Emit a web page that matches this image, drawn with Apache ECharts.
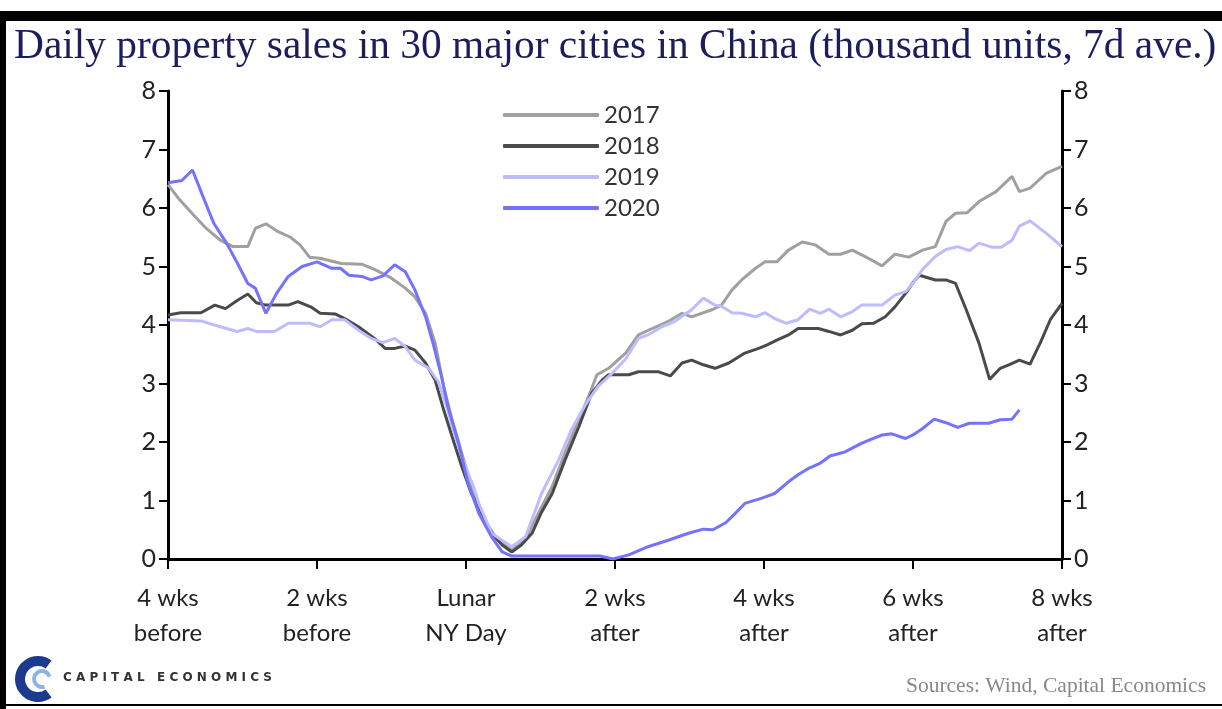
<!DOCTYPE html>
<html>
<head>
<meta charset="utf-8">
<script src="https://cdn.jsdelivr.net/npm/echarts@6/dist/echarts.min.js"></script>
<style>
  html, body { margin: 0; padding: 0; background: #fff; }
  #chart { width: 1222px; height: 709px; }
</style>
</head>
<body>
<div id="chart"></div>
<script>
// days counted from "4 wks before" (0) to "8 wks after" (84)
var xTickLabels = ['4 wks\nbefore', '2 wks\nbefore', 'Lunar\nNY Day', '2 wks\nafter', '4 wks\nafter', '6 wks\nafter', '8 wks\nafter'];
var yTicks = [0, 1, 2, 3, 4, 5, 6, 7, 8];

var days2017 = [0, 1.1, 2.4, 3.6, 4.9, 6.1, 7.5, 8.2, 9.2, 10.2, 11.5, 12.4, 13.3, 14.3, 16.3, 18.2, 19.4, 21, 22.3, 23.2, 24.2, 25.1, 25.9, 26.7, 27.6, 28.5, 29.8, 31, 32.3, 33.6, 34.8, 36.1, 37.3, 38.6, 39.5, 40.3, 41.4, 43, 44.2, 45.5, 47, 48.3, 49.2, 51.1, 52, 53, 53.9, 55.2, 56.1, 57.2, 58.3, 59.6, 60.8, 62.1, 63.2, 64.3, 65.5, 67.1, 68.3, 69.6, 70.9, 72.1, 73.1, 74, 75.1, 76.2, 77.8, 79.3, 80, 81, 82.5, 84];
var sales2017 = [6.4, 6.14, 5.88, 5.65, 5.45, 5.34, 5.34, 5.65, 5.73, 5.61, 5.5, 5.37, 5.16, 5.14, 5.05, 5.04, 4.95, 4.8, 4.63, 4.48, 4.2, 3.69, 2.95, 2.38, 1.81, 1.24, 0.64, 0.32, 0.15, 0.35, 0.78, 1.24, 1.81, 2.38, 2.77, 3.15, 3.26, 3.52, 3.83, 3.94, 4.06, 4.2, 4.14, 4.26, 4.34, 4.6, 4.77, 4.97, 5.08, 5.08, 5.28, 5.42, 5.37, 5.21, 5.21, 5.28, 5.17, 5.01, 5.21, 5.16, 5.28, 5.34, 5.77, 5.91, 5.92, 6.11, 6.28, 6.54, 6.28, 6.34, 6.59, 6.71];

var days2018 = [0, 1.2, 3.1, 4.4, 5.4, 6.5, 7.5, 8.3, 9.2, 11.3, 12.2, 13.4, 14.3, 15.7, 16.6, 17.9, 19.4, 20.4, 21.3, 22.3, 23.2, 24.2, 25.1, 25.9, 26.7, 27.6, 28.5, 29.2, 30.4, 31.4, 32.3, 33.2, 34.2, 35.1, 36.1, 37.3, 38.6, 39.8, 40.8, 41.4, 43.3, 44.2, 46.1, 47.2, 48.3, 49.2, 50.3, 51.4, 52.7, 54.2, 55.5, 56.3, 57.2, 58.3, 59.2, 61.1, 62.1, 63.2, 64.3, 65.2, 66.3, 67.4, 68.3, 69.3, 70.2, 70.6, 72.1, 73.1, 74, 75, 76.2, 77.2, 78.2, 79, 80, 81, 82, 82.9, 84];
var sales2018 = [4.17, 4.21, 4.21, 4.34, 4.28, 4.42, 4.53, 4.38, 4.34, 4.34, 4.4, 4.31, 4.2, 4.19, 4.11, 3.97, 3.77, 3.6, 3.6, 3.64, 3.57, 3.35, 3.06, 2.55, 2.09, 1.58, 1.12, 0.89, 0.44, 0.24, 0.12, 0.24, 0.44, 0.8, 1.12, 1.69, 2.26, 2.83, 3.06, 3.15, 3.15, 3.2, 3.2, 3.13, 3.35, 3.4, 3.32, 3.26, 3.35, 3.52, 3.6, 3.66, 3.74, 3.83, 3.94, 3.94, 3.89, 3.83, 3.91, 4.02, 4.03, 4.14, 4.31, 4.54, 4.77, 4.85, 4.77, 4.77, 4.71, 4.26, 3.69, 3.07, 3.26, 3.32, 3.4, 3.33, 3.71, 4.09, 4.37];

var days2019 = [0, 3.1, 4.9, 6.5, 7.5, 8.3, 10, 11.3, 13.3, 14.3, 15.4, 16.6, 17.9, 19.1, 20.2, 21.3, 22.3, 23.2, 24.5, 25.4, 26.2, 26.9, 27.7, 28.7, 29.2, 30.4, 32.3, 33.6, 35.1, 36.7, 37.9, 39.2, 40.4, 41.7, 43, 44.2, 45.1, 46.4, 47.6, 49.2, 50.3, 51.4, 52, 53, 53.9, 55.2, 56.1, 57, 58.1, 59.2, 60.3, 61.3, 62.1, 63.2, 64.3, 65.2, 67.1, 68.3, 69.3, 70, 70.9, 72.1, 73.1, 74.2, 75.3, 76.2, 77.4, 78.3, 79.3, 80, 81, 82.5, 84];
var sales2019 = [4.09, 4.07, 3.97, 3.89, 3.94, 3.89, 3.89, 4.03, 4.03, 3.97, 4.09, 4.09, 3.91, 3.77, 3.7, 3.77, 3.63, 3.4, 3.26, 3.03, 2.6, 2.15, 1.69, 1.24, 0.95, 0.44, 0.21, 0.38, 1.12, 1.69, 2.21, 2.63, 2.95, 3.17, 3.42, 3.77, 3.83, 3.97, 4.06, 4.26, 4.46, 4.34, 4.32, 4.21, 4.2, 4.14, 4.21, 4.11, 4.03, 4.09, 4.27, 4.2, 4.27, 4.14, 4.23, 4.34, 4.34, 4.51, 4.57, 4.71, 4.95, 5.17, 5.29, 5.34, 5.27, 5.4, 5.33, 5.33, 5.45, 5.69, 5.78, 5.57, 5.34];

var days2020 = [0, 1.3, 2.3, 3.3, 4.3, 5.5, 6.6, 7.5, 8.2, 9.2, 10.2, 11.3, 12.6, 14, 15.4, 16.2, 17, 18.2, 19.1, 20.2, 21.3, 22.3, 23.2, 24.2, 24.9, 25.7, 26.3, 27.3, 28.2, 29.2, 30.4, 31.4, 32.3, 40.6, 41.8, 43.3, 45.1, 47, 48.9, 50.3, 51.2, 52.4, 53.3, 54.2, 55.8, 57, 58.3, 59.2, 60.2, 61.3, 62.2, 63.6, 65.2, 66.1, 67.1, 68, 69.3, 70, 70.9, 72, 73.1, 74.2, 75.3, 77.1, 78.2, 79.3, 80];
var sales2020 = [6.43, 6.47, 6.65, 6.19, 5.74, 5.4, 5.03, 4.71, 4.63, 4.2, 4.54, 4.83, 5.0, 5.08, 4.97, 4.97, 4.85, 4.83, 4.77, 4.84, 5.03, 4.91, 4.6, 4.14, 3.69, 3.12, 2.6, 1.98, 1.29, 0.78, 0.38, 0.12, 0.05, 0.05, 0.0, 0.07, 0.21, 0.32, 0.44, 0.51, 0.5, 0.62, 0.78, 0.95, 1.04, 1.12, 1.32, 1.44, 1.55, 1.64, 1.76, 1.83, 1.98, 2.05, 2.12, 2.14, 2.06, 2.12, 2.23, 2.39, 2.33, 2.25, 2.32, 2.32, 2.38, 2.39, 2.55];

function pairs(days, vals) {
  var out = [];
  for (var i = 0; i < days.length; i++) out.push([days[i], vals[i]]);
  return out;
}

function lineSeries(name, days, vals, color) {
  return {
    name: name,
    type: 'line',
    data: pairs(days, vals),
    symbol: 'none',
    smooth: false,
    lineStyle: { color: color, width: 3 },
    itemStyle: { color: color },
    emphasis: { disabled: true }
  };
}

var tickFont = 'Lato, "Open Sans", sans-serif';

function yAxisDef(pos) {
  return {
    type: 'value',
    position: pos,
    min: yTicks[0],
    max: yTicks[yTicks.length - 1],
    interval: 1,
    axisLine: { show: true, lineStyle: { color: '#000', width: 3 } },
    axisTick: { show: true, inside: false, length: 9, lineStyle: { color: '#000', width: 2 } },
    axisLabel: { color: '#222', fontSize: 25, fontFamily: tickFont, margin: 12 },
    splitLine: { show: false }
  };
}

var chart = echarts.init(document.getElementById('chart'), null, { renderer: 'canvas' });

chart.setOption({
  animation: false,
  backgroundColor: '#fff',
  title: {
    text: 'Daily property sales in 30 major cities in China (thousand units, 7d ave.)',
    left: 9,
    top: 22,
    textStyle: { color: '#1c1c5e', fontSize: 41.4, fontWeight: 'normal', fontFamily: '"Liberation Serif", serif' }
  },
  legend: {
    data: ['2017', '2018', '2019', '2020'],
    orient: 'vertical',
    left: 498,
    top: 98,
    icon: 'roundRect',
    itemWidth: 96,
    itemHeight: 4,
    itemGap: 7,
    textStyle: { color: '#333', fontSize: 24, lineHeight: 24, fontFamily: tickFont }
  },
  grid: { left: 168, right: 160, top: 91, bottom: 150, containLabel: false },
  xAxis: {
    type: 'value',
    min: 0,
    max: 84,
    interval: 14,
    axisLine: { show: true, onZero: false, lineStyle: { color: '#000', width: 3 } },
    axisTick: { show: true, inside: false, length: 10, lineStyle: { color: '#000', width: 2 } },
    axisLabel: {
      color: '#222', fontSize: 24, lineHeight: 35, fontFamily: tickFont, margin: 22,
      formatter: function (v) { return xTickLabels[Math.round(v / 14)]; }
    },
    splitLine: { show: false }
  },
  yAxis: [yAxisDef('left'), yAxisDef('right')],
  series: [
    lineSeries('2017', days2017, sales2017, '#a0a0a0'),
    lineSeries('2018', days2018, sales2018, '#4a4a4a'),
    lineSeries('2019', days2019, sales2019, '#bcbcff'),
    lineSeries('2020', days2020, sales2020, '#7373ff')
  ],
  graphic: [
    // frame
    { type: 'rect', shape: { x: 0, y: 11, width: 1222, height: 10 }, style: { fill: '#000' } },
    { type: 'rect', shape: { x: 0, y: 11, width: 6, height: 698 }, style: { fill: '#000' } },
    { type: 'rect', shape: { x: 0, y: 704, width: 1222, height: 2 }, style: { fill: '#000' } },
    // logo
    { type: 'arc', shape: { cx: 38, cy: 679, r: 18, startAngle: Math.PI * 0.3, endAngle: Math.PI * 1.7, clockwise: true },
      style: { stroke: '#1d3b8e', lineWidth: 10, fill: null } },
    { type: 'arc', shape: { cx: 42, cy: 679, r: 8, startAngle: Math.PI * 0.4, endAngle: Math.PI * 1.9, clockwise: true },
      style: { stroke: '#8cb2e6', lineWidth: 4, fill: null } },
    { type: 'text', left: 63, top: 672,
      style: { text: 'C A P I T A L   E C O N O M I C S', fill: '#333', font: 'bold 12px "DejaVu Sans", sans-serif' } },
    { type: 'text', right: 16, top: 675,
      style: { text: 'Sources: Wind, Capital Economics', fill: '#888', font: '21.5px "Liberation Serif", serif' } }
  ]
});
</script>
</body>
</html>
